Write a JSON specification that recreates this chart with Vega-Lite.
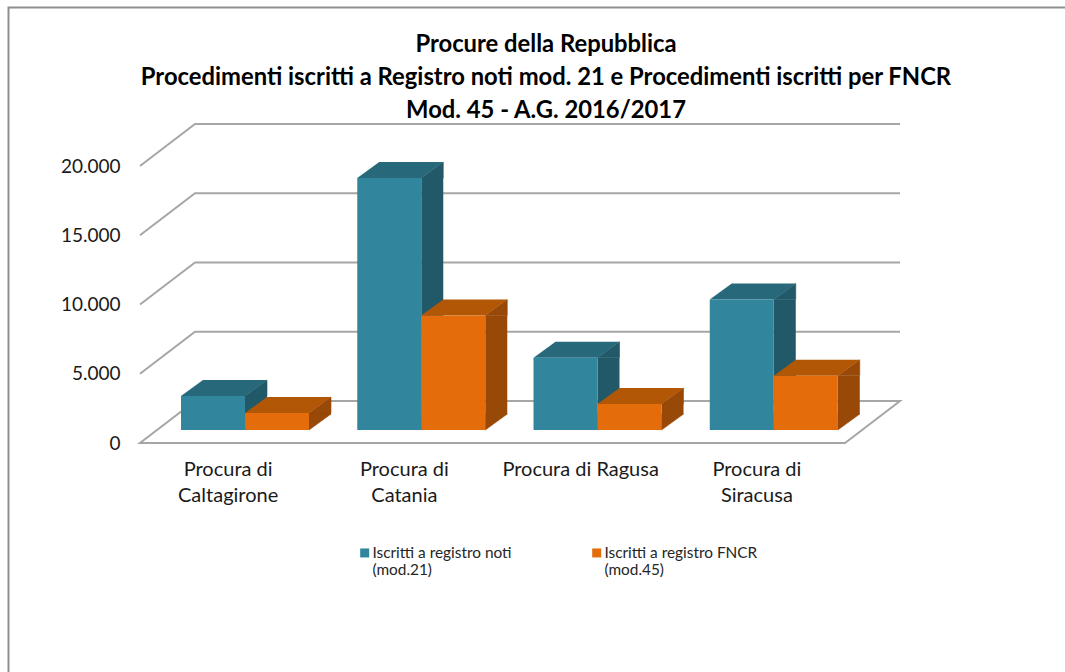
{
"$schema":"https://vega.github.io/schema/vega-lite/v6.json",
"autosize":{"type":"none"},
"width":705,"height":277,
"padding":{"left":140,"top":153,"right":220,"bottom":242},
"background":"white",
"view":{"stroke":null},
"config":{"font":"Lato","view":{"stroke":null}},
"title":{"text":["Procure della Repubblica","Procedimenti iscritti a Registro noti mod. 21 e Procedimenti iscritti per FNCR","Mod. 45 - A.G. 2016/2017"],"font":"Lato","fontSize":23.8,"fontWeight":"bold","color":"#000000","lineHeight":33,"anchor":"middle","frame":"group","dx":53.5,"offset":-119},
"datasets":{
"dati":[
{"procura":"Procura di Caltagirone","serie":"Iscritti a registro noti (mod.21)","valore":2460},
{"procura":"Procura di Caltagirone","serie":"Iscritti a registro FNCR (mod.45)","valore":1230},
{"procura":"Procura di Catania","serie":"Iscritti a registro noti (mod.21)","valore":18190},
{"procura":"Procura di Catania","serie":"Iscritti a registro FNCR (mod.45)","valore":8260},
{"procura":"Procura di Ragusa","serie":"Iscritti a registro noti (mod.21)","valore":5220},
{"procura":"Procura di Ragusa","serie":"Iscritti a registro FNCR (mod.45)","valore":1880},
{"procura":"Procura di Siracusa","serie":"Iscritti a registro noti (mod.21)","valore":9420},
{"procura":"Procura di Siracusa","serie":"Iscritti a registro FNCR (mod.45)","valore":3910}
],
"griglia":[{"valore":5000},{"valore":10000},{"valore":15000},{"valore":20000}],
"base":[{"valore":0}],
"cornice":[{"elemento":"cornice"}]
},
"layer":[
{"data":{"name":"cornice"},"mark":{"type":"point","shape":"M-484,380.5 L-484,-284 L572.5,-284","size":4,"filled":false,"fill":null,"stroke":"#8f8f8f","strokeWidth":2,"opacity":1,"clip":false},"encoding":{}},
{"data":{"name":"griglia"},"mark":{"type":"point","shape":"M-352.5,13 L-297.5,-29 L407.5,-29","size":4,"filled":false,"fill":null,"stroke":"#a6a6a6","strokeWidth":2,"opacity":1},"encoding":{"y":{"field":"valore","type":"quantitative","scale":{"domain":[0,20000],"range":[277,0],"nice":false},"axis":{"title":null,"domain":false,"ticks":false,"grid":false,"values":[0,5000,10000,15000,20000],"labelPadding":20,"labelOffset":13,"labelFontSize":19,"labelFont":"Lato","labelColor":"#1a1a1a","labelExpr":"replace(format(datum.value,','),',','.')"}}}},
{"data":{"name":"base"},"mark":{"type":"point","shape":"M-352.5,13 L352.5,13 L407.5,-29 L-297.5,-29 Z","size":4,"filled":false,"fill":null,"stroke":"#a6a6a6","strokeWidth":2,"opacity":1},"encoding":{"y":{"field":"valore","type":"quantitative"}}},
{"data":{"name":"dati"},"mark":{"type":"bar","width":22,"y2Offset":-16},
"encoding":{"x":{"field":"procura","type":"nominal","scale":{"paddingInner":0,"paddingOuter":0},"axis":{"title":null,"domain":false,"ticks":false,"labelAngle":0,"labelAlign":"center","labelPadding":29,"labelFontSize":20,"labelFont":"Lato","labelColor":"#1a1a1a","labelLineHeight":26,"labelLimit":300,"labelExpr":"length(datum.label)>17 ? ['Procura di', slice(datum.label,11)] : datum.label"}},"xOffset":{"field":"serie","type":"nominal","sort":null,"scale":{"paddingInner":0,"paddingOuter":0.377,"align":0.85,"range":[43,219.25]}},"y":{"field":"valore","type":"quantitative"},"y2":{"datum":0},"color":{"field":"serie","type":"nominal","legend":null,"sort":null,"scale":{"domain":["Iscritti a registro noti (mod.21)","Iscritti a registro FNCR (mod.45)"],"range":["#215968","#984807"]}}}},
{"data":{"name":"dati"},"mark":{"type":"point","shape":"M32,0 L54,-16 L54,0 Z","size":4,"filled":true,"opacity":1,"strokeWidth":0.6},
"encoding":{"x":{"field":"procura","type":"nominal"},"xOffset":{"field":"serie","type":"nominal","sort":null,"scale":{"type":"band","paddingInner":0,"paddingOuter":0.377,"align":0.85,"range":[0,176.25]}},"y":{"field":"valore","type":"quantitative"},"stroke":{"field":"serie","type":"nominal","legend":null,"sort":null,"scale":{"domain":["Iscritti a registro noti (mod.21)","Iscritti a registro FNCR (mod.45)"],"range":["#215968","#984807"]}},"color":{"field":"serie","type":"nominal","legend":null,"sort":null,"scale":{"domain":["Iscritti a registro noti (mod.21)","Iscritti a registro FNCR (mod.45)"],"range":["#215968","#984807"]}}}},
{"data":{"name":"dati"},"mark":{"type":"point","shape":"M32,0 L54,-16 L32,-16 Z","size":4,"filled":true,"opacity":1,"strokeWidth":0.6},
"encoding":{"x":{"field":"procura","type":"nominal"},"xOffset":{"field":"serie","type":"nominal","sort":null,"scale":{"type":"band","paddingInner":0,"paddingOuter":0.377,"align":0.85,"range":[0,176.25]}},"y":{"datum":0},"stroke":{"field":"serie","type":"nominal","legend":null,"sort":null,"scale":{"domain":["Iscritti a registro noti (mod.21)","Iscritti a registro FNCR (mod.45)"],"range":["#215968","#984807"]}},"color":{"field":"serie","type":"nominal","legend":null,"sort":null,"scale":{"domain":["Iscritti a registro noti (mod.21)","Iscritti a registro FNCR (mod.45)"],"range":["#215968","#984807"]}}}},
{"data":{"name":"dati"},"mark":{"type":"point","shape":"M-32,0 L32,0 L54,-16 L-10,-16 Z","size":4,"filled":true,"opacity":1},
"encoding":{"x":{"field":"procura","type":"nominal"},"xOffset":{"field":"serie","type":"nominal","sort":null,"scale":{"type":"band","paddingInner":0,"paddingOuter":0.377,"align":0.85,"range":[0,176.25]}},"y":{"field":"valore","type":"quantitative"},"color":{"field":"serie","type":"nominal","legend":null,"sort":null,"scale":{"domain":["Iscritti a registro noti (mod.21)","Iscritti a registro FNCR (mod.45)"],"range":["#27687b","#b25706"]}}}},
{"data":{"name":"dati"},"mark":{"type":"bar","width":64},
"encoding":{
"x":{"field":"procura","type":"nominal"},
"xOffset":{"field":"serie","type":"nominal","sort":null,"scale":{"paddingInner":0,"paddingOuter":0.377,"align":0.85,"range":[0,176.25]}},
"y":{"field":"valore","type":"quantitative"},
"y2":{"datum":0},
"color":{"field":"serie","type":"nominal","sort":null,"scale":{"domain":["Iscritti a registro noti (mod.21)","Iscritti a registro FNCR (mod.45)"],"range":["#31859c","#e46c0a"]},
"legend":{"title":null,"orient":"none","legendX":217,"legendY":392,"columns":2,"columnPadding":77,"symbolType":"square","symbolSize":81,"symbolStrokeWidth":0,"labelFont":"Lato","labelFontSize":15.4,"labelColor":"#262626","labelOffset":0,"labelLimit":300,"labelExpr":"[slice(datum.label,0,indexof(datum.label,' (')), '\u00a0\u00a0'+slice(datum.label,indexof(datum.label,' (')+1)]"}}}}
],
"resolve":{"scale":{"color":"independent","xOffset":"independent"}}
}
